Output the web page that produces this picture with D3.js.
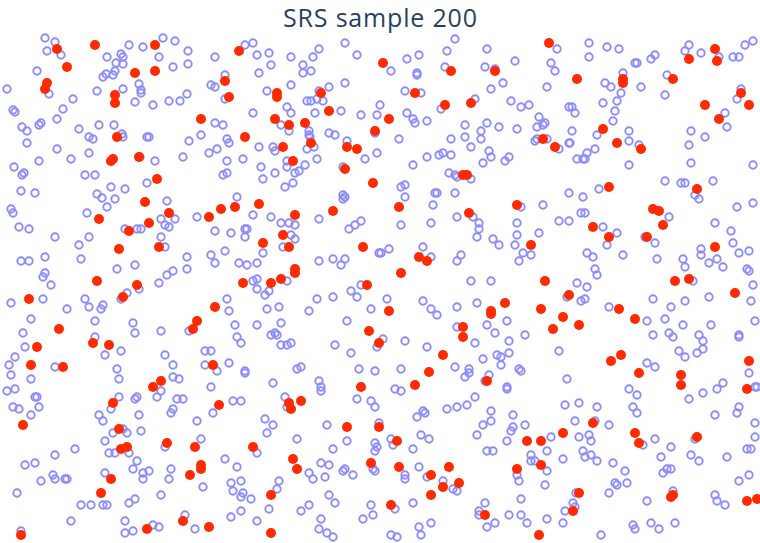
<!DOCTYPE html>
<html><head><meta charset="utf-8">
<script src="https://cdn.jsdelivr.net/npm/d3@7"></script>
<style>html,body{margin:0;padding:0;background:#fff;}svg{display:block;}</style>
</head><body>
<svg id="chart" width="760" height="543"></svg>
<script>
const titleText = "SRS sample 200";
// population points (not sampled), [x, y]
const populationPoints = [
[45,38],[55,42],[47,51],[61,55],[37,71],[7,89],[49,94],[73,99],[63,109],[13,110],[15,112],[57,119],[41,123],[39,125],[22,127],[27,131],[27,143],[79,129],[99,125],[114,125],[89,137],[93,139],[122,134],[123,137],[147,137],[149,137],[57,149],[39,161],[71,159],[89,153],[14,167],[24,173],[22,175],[85,175],[95,175],[21,191],[35,193],[97,194],[102,198],[111,187],[125,189],[115,199],[147,183],[155,161],[140,157],[183,157],[167,201],[97,91],[123,89],[139,84],[141,90],[141,93],[135,102],[153,105],[169,101],[180,101],[187,94],[189,141],[163,38],[175,41],[188,51],[159,57],[173,67],[188,64],[143,47],[129,45],[107,57],[121,54],[123,57],[116,63],[123,64],[115,71],[113,75],[103,77],[106,74],
[245,45],[253,43],[215,57],[257,55],[269,53],[271,65],[259,73],[291,57],[313,57],[319,49],[303,65],[303,73],[311,71],[345,43],[357,55],[225,75],[211,85],[215,87],[225,99],[267,91],[291,85],[345,83],[319,91],[329,87],[307,101],[311,101],[317,99],[323,101],[287,107],[291,113],[315,113],[341,111],[361,115],[377,115],[380,105],[253,113],[215,123],[223,125],[201,135],[227,139],[229,143],[217,149],[209,153],[227,161],[243,159],[259,147],[273,147],[275,151],[281,125],[289,131],[309,131],[309,135],[310,137],[329,133],[335,135],[347,141],[307,149],[314,147],[317,159],[365,159],[377,153],[375,133],[287,161],[287,167],[305,165],[261,167],[275,173],[263,179],[295,173],[299,171],[223,175],[227,173],[285,187],[293,183],[237,197],[343,167],[343,195],[345,197],[343,199],
[455,39],[447,51],[419,55],[407,59],[391,71],[417,73],[417,75],[445,67],[487,49],[485,67],[495,69],[515,61],[503,83],[491,89],[557,49],[551,63],[555,71],[547,87],[405,91],[421,93],[475,99],[441,109],[407,113],[413,119],[415,123],[427,121],[511,101],[521,107],[529,105],[569,107],[539,117],[537,127],[545,123],[543,125],[517,129],[499,127],[487,123],[481,131],[481,139],[465,125],[465,137],[451,139],[399,139],[471,147],[489,151],[491,157],[483,163],[509,157],[505,161],[427,157],[439,155],[443,153],[451,155],[413,165],[449,173],[455,175],[471,179],[457,177],[405,185],[401,187],[405,197],[435,193],[437,193],[455,193],[535,141],[537,139],[547,139],[559,149],[569,143],[569,193],
[589,43],[589,57],[607,47],[619,49],[635,63],[637,63],[651,59],[655,55],[623,73],[605,83],[611,87],[621,93],[641,87],[617,101],[603,103],[615,111],[613,121],[572,107],[575,113],[572,131],[570,143],[597,135],[587,153],[595,149],[577,159],[583,159],[585,159],[629,131],[629,141],[639,145],[629,165],[667,75],[665,95],[685,51],[689,45],[701,53],[719,57],[733,57],[739,57],[745,45],[753,41],[741,89],[737,99],[725,113],[727,127],[691,131],[705,137],[689,145],[691,163],[753,165],[665,181],[681,183],[685,183],[713,181],[695,195],[699,199],[599,189],[583,197],
[11,209],[13,213],[87,213],[107,207],[19,227],[29,229],[55,237],[79,245],[89,237],[81,259],[45,257],[21,261],[29,261],[45,273],[43,277],[51,285],[125,229],[137,229],[141,229],[161,219],[165,225],[169,227],[175,219],[161,237],[165,247],[117,269],[135,265],[187,257],[187,269],[173,271],[167,275],[159,283],[139,289],[127,293],[121,299],[11,303],[43,299],[85,299],[89,307],[103,305],[101,309],[67,309],[31,319],[95,321],[133,323],[135,333],[161,331],[189,331],[23,333],[25,347],[95,337],[105,355],[121,351],[15,357],[9,365],[55,367],[117,369],[165,355],[173,365],
[197,217],[215,231],[231,233],[245,229],[247,229],[245,237],[253,215],[271,217],[281,223],[289,223],[295,225],[291,235],[295,239],[283,247],[263,253],[225,251],[211,255],[215,263],[239,263],[247,265],[257,263],[253,281],[257,279],[257,289],[269,291],[265,295],[287,281],[227,299],[229,311],[267,309],[279,307],[235,325],[257,325],[281,323],[237,337],[241,343],[271,335],[275,333],[277,335],[281,345],[287,345],[291,343],[205,351],[211,351],[205,365],[229,363],[245,371],[297,369],[301,367],[319,219],[349,229],[355,225],[361,221],[319,261],[333,259],[345,259],[341,265],[351,291],[357,297],[361,285],[317,299],[333,297],[309,311],[371,309],[347,321],[379,253],[335,345],[351,353],[377,347],[359,369],[375,371],
[433,205],[401,225],[431,223],[457,217],[473,217],[479,223],[479,229],[477,237],[493,239],[499,245],[521,207],[543,205],[517,223],[517,235],[515,245],[539,233],[559,221],[569,221],[523,253],[531,255],[519,261],[389,249],[381,253],[423,247],[431,257],[461,255],[457,261],[471,281],[491,281],[387,299],[423,301],[431,309],[437,315],[457,307],[477,303],[457,327],[487,325],[495,333],[507,321],[509,341],[509,353],[525,335],[559,351],[567,297],[475,343],[383,339],[405,341],[427,347],[497,355],[501,357],[501,365],[483,359],[455,367],[469,369],[401,369],[519,369],[521,371],
[581,213],[585,213],[603,227],[617,233],[607,245],[669,217],[645,237],[655,243],[657,259],[623,255],[587,253],[593,257],[595,269],[597,275],[577,283],[587,287],[581,301],[585,299],[609,307],[653,299],[671,307],[685,301],[709,297],[737,207],[753,203],[715,223],[731,231],[733,243],[739,253],[749,251],[701,249],[701,255],[683,259],[685,267],[709,263],[717,259],[723,267],[747,269],[749,271],[753,285],[751,301],[755,321],[693,281],[647,321],[653,335],[665,319],[669,333],[673,337],[683,325],[711,325],[699,335],[703,341],[703,349],[697,353],[739,335],[739,337],[679,351],[685,357],[647,363],[655,367],
[11,375],[31,379],[7,391],[15,389],[35,397],[37,397],[13,407],[19,409],[39,407],[31,415],[119,379],[119,397],[99,415],[103,421],[111,409],[135,399],[137,397],[139,415],[157,397],[161,391],[173,377],[179,379],[177,399],[183,399],[173,409],[171,413],[141,431],[127,433],[113,433],[123,429],[105,441],[109,453],[115,453],[129,453],[137,461],[133,469],[143,473],[149,471],[143,479],[165,447],[171,469],[169,479],[161,495],[75,449],[55,455],[25,465],[35,463],[41,481],[53,475],[55,479],[65,479],[67,479],[105,473],[17,493],[81,505],[91,505],[103,505],[107,505],[129,503],[135,499],[71,521],[125,521],[125,533],[133,531],[153,525],[159,527],[185,515],[21,531],
[217,371],[245,373],[211,387],[233,401],[241,401],[213,413],[197,421],[273,383],[285,397],[287,407],[265,419],[273,425],[267,433],[319,381],[321,387],[321,391],[357,399],[371,401],[375,407],[379,423],[327,425],[347,441],[333,449],[375,443],[375,451],[377,447],[297,439],[201,439],[257,453],[225,459],[237,467],[203,487],[231,483],[241,481],[233,491],[243,493],[241,497],[251,499],[279,481],[277,489],[309,473],[313,479],[321,463],[329,465],[325,477],[343,471],[345,469],[353,475],[373,469],[375,471],[329,495],[335,503],[269,509],[301,511],[309,505],[241,511],[231,517],[257,521],[321,519],[319,529],[327,533],[333,537],[371,505],[373,515],[363,519],[195,529],
[465,377],[469,373],[489,375],[485,381],[567,379],[507,387],[507,389],[395,389],[401,391],[417,417],[423,411],[425,413],[447,409],[457,407],[467,405],[475,397],[491,411],[491,421],[483,425],[477,435],[513,415],[513,427],[511,431],[507,441],[525,425],[565,405],[421,435],[429,439],[391,439],[393,445],[413,449],[487,451],[493,451],[551,437],[547,451],[531,455],[531,461],[535,461],[563,459],[419,467],[405,475],[405,479],[427,477],[443,481],[453,489],[457,491],[517,475],[519,481],[547,471],[545,485],[413,503],[395,509],[521,499],[485,503],[479,511],[479,515],[509,515],[521,515],[527,523],[547,519],[565,511],[563,523],[487,527],[495,523],[431,523],[419,527],[421,535],[391,535],[397,537],
[749,373],[629,389],[637,395],[633,407],[637,413],[579,403],[597,407],[575,421],[595,421],[609,425],[579,437],[589,435],[591,441],[583,451],[585,457],[591,455],[597,461],[613,463],[625,471],[615,483],[617,485],[627,483],[609,493],[643,445],[655,439],[671,447],[661,457],[663,473],[667,469],[671,469],[647,501],[673,491],[689,399],[703,393],[717,389],[723,383],[715,415],[737,413],[739,407],[755,387],[757,387],[755,423],[755,437],[747,449],[751,449],[727,457],[691,455],[699,461],[695,439],[739,481],[749,475],[715,495],[717,501],[725,505],[633,525],[635,529],[651,523],[659,529],[675,523],[601,535],[573,503],[575,507],[576,493]
];
// the 200 sampled points, [x, y]
const samplePoints = [
[57,49],[95,45],[155,45],[67,67],[135,73],[155,71],[47,83],[45,89],[115,95],[115,103],[117,137],[113,159],[111,161],[139,157],[157,179],[145,202],
[239,51],[225,81],[229,97],[277,93],[277,97],[321,93],[329,111],[201,119],[275,119],[289,125],[305,123],[245,137],[283,147],[311,143],[347,147],[357,149],[375,131],[293,161],[345,169],[373,183],
[549,43],[383,63],[451,71],[495,71],[415,93],[445,105],[471,103],[389,119],[543,139],[555,147],[463,175],[467,175],
[577,79],[623,79],[623,83],[673,79],[689,59],[715,49],[717,61],[741,93],[749,105],[705,105],[719,119],[603,129],[617,143],[641,149],[609,187],[697,189],
[169,213],[99,219],[149,223],[129,231],[119,249],[159,247],[97,281],[137,285],[123,297],[29,299],[59,329],[37,347],[93,343],[109,345],[31,365],[63,367],
[209,217],[221,209],[235,207],[259,204],[295,215],[333,211],[283,235],[263,243],[289,247],[363,247],[295,269],[295,273],[243,283],[271,283],[281,279],[367,285],[215,307],[197,321],[193,329],[369,331],[379,343],[213,365],
[399,207],[469,213],[517,205],[531,245],[419,257],[427,261],[401,273],[545,281],[389,311],[505,303],[491,311],[491,314],[541,309],[563,317],[553,329],[569,295],[463,327],[463,337],[443,355],[429,372],
[653,209],[659,211],[663,225],[593,227],[609,237],[647,237],[715,247],[675,281],[689,279],[735,293],[619,309],[635,319],[579,325],[611,361],[621,355],[749,361],[639,373],[681,375],
[161,381],[153,387],[113,403],[23,425],[119,429],[167,443],[121,449],[127,447],[111,479],[101,493],[190,475],[183,521],[147,529],[21,535],
[219,405],[289,403],[291,409],[301,401],[361,387],[347,427],[379,427],[195,447],[253,447],[201,465],[201,469],[293,459],[297,469],[371,463],[271,495],[209,527],[271,533],
[415,385],[487,381],[397,441],[399,467],[431,475],[449,467],[459,483],[443,487],[431,495],[391,505],[485,515],[527,441],[541,441],[563,433],[517,469],[541,465],[539,535],
[681,385],[747,389],[593,423],[635,433],[639,443],[697,437],[579,493],[573,511],[671,497],[673,495],[747,501],[757,499]
];
const xDomain = [0, 760];
const yDomain = [0, 543];

const W = 760, H = 543;
const svg = d3.select("#chart");
const x = d3.scaleLinear().domain(xDomain).range([0, W]);
const y = d3.scaleLinear().domain(yDomain).range([0, H]);

svg.append("text")
  .attr("x", W / 2).attr("y", 27)
  .attr("text-anchor", "middle")
  .attr("font-family", "'Open Sans', Verdana, Arial, sans-serif")
  .attr("font-size", 25)
  .attr("textLength", 194)
  .attr("lengthAdjust", "spacing")
  .attr("fill", "#2a3f5f")
  .text(titleText);

svg.append("g").selectAll("circle").data(populationPoints).join("circle")
  .attr("cx", d => x(d[0])).attr("cy", d => y(d[1]))
  .attr("r", 3.7)
  .attr("fill", "none")
  .attr("stroke", "#8c8cfa")
  .attr("stroke-width", 1.9);

svg.append("g").selectAll("circle").data(samplePoints).join("circle")
  .attr("cx", d => x(d[0])).attr("cy", d => y(d[1]))
  .attr("r", 5)
  .attr("fill", "#ff2a00");
</script>
</body></html>
